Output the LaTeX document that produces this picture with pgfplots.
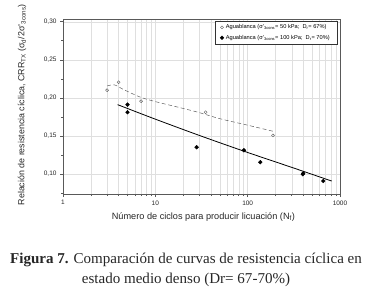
\documentclass[border=0pt]{standalone}
\usepackage{pgfplots}
\pgfplotsset{compat=1.18}
\usepackage{fontspec}
\setmainfont{Liberation Sans}
\newfontfamily\capfont{Liberation Serif}
\begin{document}
\begin{tikzpicture}
\path[use as bounding box] (-63bp,-103bp) rectangle (312bp,194bp);
\begin{axis}[
  at={(0,0)}, anchor=south west,
  scale only axis, width=277bp, height=175bp,
  xmode=log, xmin=1, xmax=1000,
  ymin=0.0735, ymax=0.3036,
  xtick={1,10,100,1000}, xticklabels={1,10,100,1000},
  minor xtick={2,3,4,5,6,7,8,9,20,30,40,50,60,70,80,90,200,300,400,500,600,700,800,900},
  ytick={0.10,0.15,0.20,0.25,0.30},
  yticklabels={{0,10},{0,15},{0,20},{0,25},{0,30}},
  minor ytick={0.075,0.125,0.175,0.225,0.275},
  xmajorgrids, xminorgrids, ymajorgrids,
  grid style={gray!25, line width=0.4pt},
  minor grid style={gray!25, line width=0.4pt},
  tick align=outside, xtick pos=left, ytick pos=left,
  major tick length=3bp, minor tick length=2bp,
  tick style={gray!70!black, line width=0.5pt},
  axis line style={gray!70!black, line width=0.5pt},
  tick label style={font=\fontsize{6.5}{7}\selectfont, text=black!85},
  xlabel={Número de ciclos para producir licuación (N\textsubscript{f})},
  ylabel={Relación de resistencia cíclica, CRR\textsubscript{TX} (σ\textsubscript{d}/2σ'\textsubscript{3cons})},
  label style={font=\fontsize{8.9}{10}\selectfont, text=black!85},
  xlabel style={font=\fontsize{9.2}{10}\selectfont, at={(axis description cs:0.507,-0.131)}, anchor=center},
  ylabel style={at={(axis description cs:-0.148,0.51)}, anchor=center},
  legend style={at={(rel axis cs:0.989,0.989)}, anchor=north east,
    font=\fontsize{5.7}{6.5}\selectfont, draw=black!80, line width=0.4pt,
    inner xsep=5bp, inner ysep=1.5bp, row sep=0.8bp},
  legend image code/.code={\draw[mark repeat=2, mark phase=2, #1] plot coordinates {(0bp,0bp) (7bp,0bp) (14bp,0bp)};},
  legend cell align=left,
]
\addplot[only marks, mark=o, mark size=1.5pt, draw=gray!70!black, line width=0.4pt]
  coordinates {(3,0.21) (4,0.2205) (7,0.1955) (35,0.181) (188,0.1505)};
\addlegendentry{Aguablanca (σ'\textsubscript{3cons}= 50 kPa;\ \ D\textsubscript{r}= 67\%)}
\addplot[only marks, mark=*, mark size=1.9pt, fill=black, draw=black]
  coordinates {(5,0.191) (5,0.181) (28,0.135) (91,0.131) (137,0.1153) (400,0.1008) (395,0.0995) (658,0.0906)};
\addlegendentry{Aguablanca (σ'\textsubscript{3cons}= 100 kPa;\ \ D\textsubscript{r}= 70\%)}
\addplot[forget plot, gray!75!black, dashed, dash pattern=on 4bp off 2.5bp, line width=0.5pt, smooth]
  coordinates {(3,0.2155) (3.6,0.217) (4.5,0.211) (5.5,0.206) (7,0.2005) (10,0.195) (20,0.186) (30,0.1805) (50,0.1725) (100,0.164) (196,0.1555)};
\addplot[forget plot, black, line width=0.8pt, smooth]
  coordinates {(3.9,0.191) (10,0.1719) (31.6,0.1495) (100,0.1281) (316,0.1076) (813,0.0905)};
\end{axis}
\node[font=\capfont\fontsize{15.1}{17}\selectfont, text=black!85] at (123bp,-66bp) {\textbf{Figura 7.} Comparación de curvas de resistencia cíclica en};
\node[font=\capfont\fontsize{15.1}{17}\selectfont, text=black!85] at (123bp,-86bp) {estado medio denso (Dr= 67-70\%)};
\end{tikzpicture}
\end{document}
